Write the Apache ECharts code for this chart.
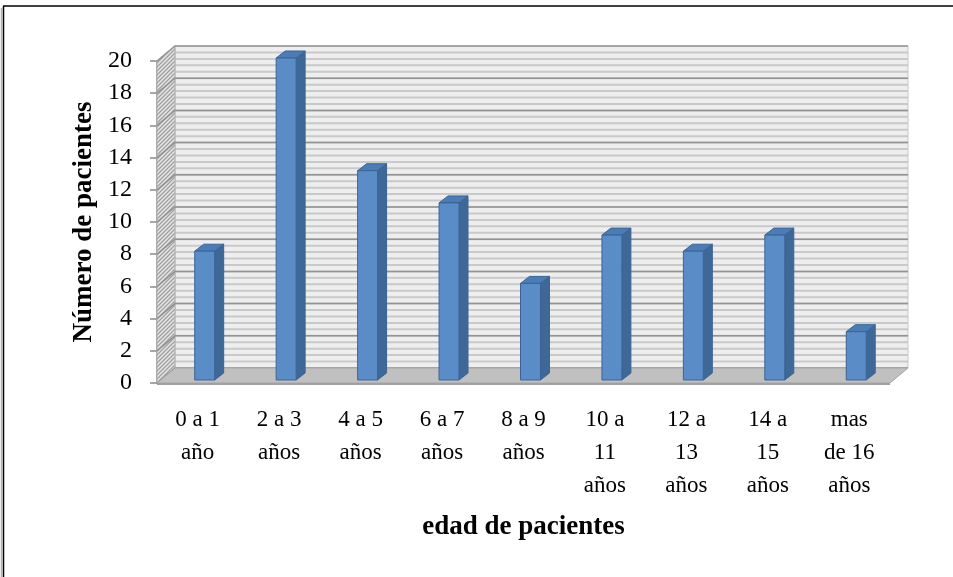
<!DOCTYPE html>
<html>
<head>
<meta charset="utf-8">
<title>Número de pacientes por edad</title>
<script src="https://cdn.jsdelivr.net/npm/echarts@6/dist/echarts.min.js"></script>
<style>
  html, body { margin: 0; padding: 0; background: #ffffff; }
  #chart { width: 953px; height: 577px; }
</style>
</head>
<body>
<div id="chart"></div>
<script>
// Age groups (x axis) and number of patients in each one
const categories = [
  '0 a 1\naño', '2 a 3\naños', '4 a 5\naños', '6 a 7\naños', '8 a 9\naños',
  '10 a\n11\naños', '12 a\n13\naños', '14 a\n15\naños', 'mas\nde 16\naños'
];
const pacientes = [8, 20, 13, 11, 6, 9, 8, 9, 3];

// Value axis range and tick step
const valueMin = 0;
const valueMax = 20;
const valueStep = 2;

// Axis titles
const xTitle = 'edad de pacientes';
const yTitle = 'Número de pacientes';

// ---- drawing style ----
const FONT = '"Liberation Serif", "DejaVu Serif", serif';
const DEPTH = [18, -15];      // offset of the back wall from the front plane (px)
const BAR_DEPTH = [9, -7];    // depth of each 3D column (px)
const BAR_SHIFT = [-3, -3];   // column front face position relative to the front plane
const BAR_FRAC = 0.245;       // column width as a fraction of the category band
const STRIPE_STEP = 0.4;      // spacing of the wall stripes, in value units

function makeHatch() {
  const c = document.createElement('canvas');
  c.width = 4; c.height = 4;
  const g = c.getContext('2d');
  g.fillStyle = '#e6e6e6';
  g.fillRect(0, 0, 4, 4);
  g.strokeStyle = '#a0a0a0';
  g.lineWidth = 1.3;
  g.beginPath();
  g.moveTo(-1, 5); g.lineTo(5, -1);
  g.moveTo(-3, 3); g.lineTo(3, -3);
  g.moveTo(1, 7); g.lineTo(7, 1);
  g.stroke();
  return c;
}
const hatch = makeHatch();

// Back wall, side wall, floor and their gridlines
function renderWalls(params, api) {
  const cs = params.coordSys;
  const x0 = cs.x, x1 = cs.x + cs.width;
  const y0 = api.coord([0, valueMin])[1];
  const yT = api.coord([0, valueMax])[1];
  const dx = DEPTH[0], dy = DEPTH[1];
  const ch = [];

  // back wall
  ch.push({
    type: 'polygon',
    shape: { points: [[x0 + dx, yT + dy], [x1 + dx, yT + dy], [x1 + dx, y0 + dy], [x0 + dx, y0 + dy]] },
    style: { fill: '#eeeeee', stroke: '#c8c8c8', lineWidth: 1 }
  });
  // wall stripes
  for (let v = valueMin + STRIPE_STEP; v < valueMax - 1e-6; v += STRIPE_STEP) {
    const y = api.coord([0, v])[1] + dy;
    ch.push({
      type: 'line',
      shape: { x1: x0 + dx, y1: y, x2: x1 + dx, y2: y },
      style: { stroke: '#c9c9c9', lineWidth: 2 }
    });
  }
  // side wall
  ch.push({
    type: 'polygon',
    shape: { points: [[x0, yT], [x0 + dx, yT + dy], [x0 + dx, y0 + dy], [x0, y0]] },
    style: { fill: { image: hatch, repeat: 'repeat' }, stroke: '#b0b0b0', lineWidth: 1 }
  });
  // major gridlines on both walls
  for (let v = valueMin; v <= valueMax + 1e-6; v += valueStep) {
    const y = api.coord([0, v])[1];
    ch.push({
      type: 'polyline',
      shape: { points: [[x0, y], [x0 + dx, y + dy], [x1 + dx, y + dy]] },
      style: { stroke: '#939393', lineWidth: 1.5, fill: null }
    });
  }
  // floor
  ch.push({
    type: 'polygon',
    shape: { points: [[x0, y0], [x1, y0], [x1 + dx, y0 + dy], [x0 + dx, y0 + dy]] },
    style: { fill: '#c0c0c0', stroke: '#a6a6a6', lineWidth: 1 }
  });
  ch.push({
    type: 'line',
    shape: { x1: x0, y1: y0 + 1, x2: x1, y2: y0 + 1 },
    style: { stroke: '#a0a0a0', lineWidth: 2 }
  });
  return { type: 'group', children: ch };
}

// 3D column: front face, right side and top
function renderBar(params, api) {
  const idx = api.value(0);
  const val = api.value(1);
  const band = api.size([1, 0])[0];
  const w = band * BAR_FRAC;
  const base = api.coord([idx, valueMin]);
  const top = api.coord([idx, val]);
  const L = base[0] + BAR_SHIFT[0];
  const R = L + w;
  const B = base[1] + BAR_SHIFT[1];
  const T = top[1] + BAR_SHIFT[1];
  const bx = BAR_DEPTH[0], by = BAR_DEPTH[1];
  const edge = '#3a6493';
  return {
    type: 'group',
    children: [
      {
        type: 'polygon',
        shape: { points: [[R, T], [R + bx, T + by], [R + bx, B + by], [R, B]] },
        style: { fill: '#3e6898', stroke: edge, lineWidth: 1 }
      },
      {
        type: 'polygon',
        shape: { points: [[L, T], [R, T], [R + bx, T + by], [L + bx, T + by]] },
        style: { fill: '#4b7cb8', stroke: edge, lineWidth: 1 }
      },
      {
        type: 'rect',
        shape: { x: L, y: T, width: w, height: B - T },
        style: { fill: '#5a8dc8', stroke: edge, lineWidth: 1 }
      }
    ]
  };
}

const chart = echarts.init(document.getElementById('chart'), null, { renderer: 'canvas' });

chart.setOption({
  animation: false,
  backgroundColor: '#ffffff',
  textStyle: { fontFamily: FONT },
  grid: { left: 157, right: 63, top: 61, bottom: 194, containLabel: false },
  xAxis: {
    type: 'category',
    data: categories,
    boundaryGap: true,
    axisLine: { show: false },
    axisTick: { show: false },
    axisLabel: {
      interval: 0, color: '#000000', fontFamily: FONT, fontSize: 23,
      lineHeight: 33, margin: 20, align: 'center'
    },
    name: xTitle,
    nameLocation: 'middle',
    nameGap: 131,
    nameTextStyle: { color: '#000000', fontFamily: FONT, fontSize: 27, fontWeight: 'bold' }
  },
  yAxis: {
    type: 'value',
    min: valueMin,
    max: valueMax,
    interval: valueStep,
    axisLine: { show: true, lineStyle: { color: '#8a8a8a', width: 1.5 } },
    axisTick: { show: true, length: 7, lineStyle: { color: '#8a8a8a', width: 1.5 } },
    splitLine: { show: false },
    axisLabel: { color: '#000000', fontFamily: FONT, fontSize: 24, margin: 25 },
    name: yTitle,
    nameLocation: 'middle',
    nameGap: 59,
    nameRotate: 90,
    nameTextStyle: { color: '#000000', fontFamily: FONT, fontSize: 27, fontWeight: 'bold' }
  },
  graphic: [
    { type: 'line', shape: { x1: 3, y1: 6, x2: 953, y2: 6 }, style: { stroke: '#000', lineWidth: 1.5 } },
    { type: 'line', shape: { x1: 3.5, y1: 6, x2: 3.5, y2: 577 }, style: { stroke: '#000', lineWidth: 1.5 } },
    { type: 'line', shape: { x1: 1.5, y1: 8, x2: 1.5, y2: 577 }, style: { stroke: '#b0b0b0', lineWidth: 1.5 } }
  ],
  series: [
    {
      type: 'custom',
      name: 'walls',
      z: 1,
      silent: true,
      renderItem: renderWalls,
      data: [[0, valueMin]],
      encode: { x: 0, y: 1 }
    },
    {
      type: 'custom',
      name: 'Número de pacientes',
      z: 3,
      renderItem: renderBar,
      data: pacientes.map((v, i) => [i, v]),
      encode: { x: 0, y: 1 }
    }
  ]
});
</script>
</body>
</html>
